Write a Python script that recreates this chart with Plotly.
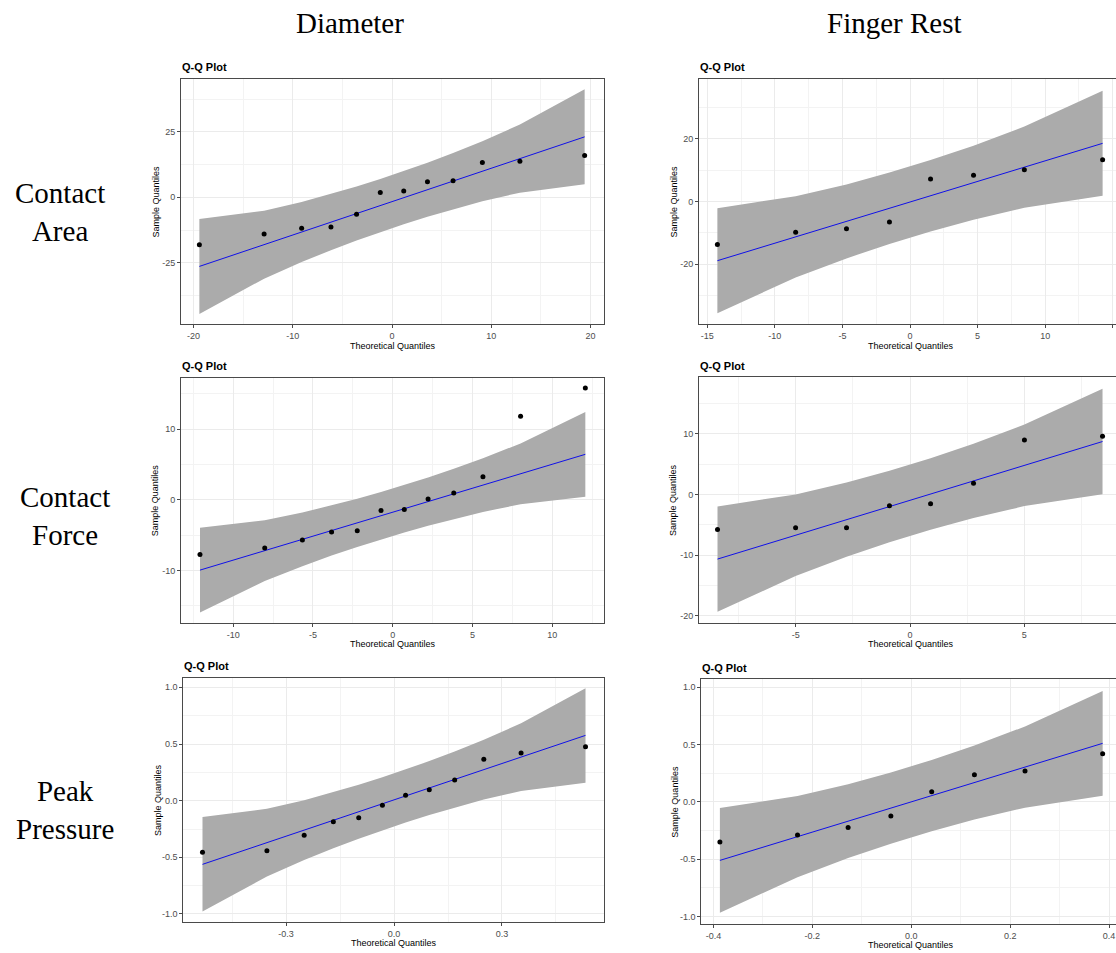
import plotly.graph_objects as go

W, H = 1116, 953

col_titles = ["Diameter", "Finger Rest"]
row_titles = ["Contact<br>Area", "Contact<br>Force", "Peak<br>Pressure"]
panel_title = "Q-Q Plot"
x_title = "Theoretical Quantiles"
y_title = "Sample Quantiles"

# ---- Contact Area / Diameter ----
ca_dia_theo = [-19.40, -12.88, -9.10, -6.15, -3.57, -1.18, 1.18, 3.57, 6.15, 9.10, 12.88, 19.40]
ca_dia_sample = [-18.1, -14.0, -11.8, -11.3, -6.5, 1.8, 2.4, 5.9, 6.3, 13.3, 13.8, 16.0]
ca_dia_fit = [-26.40, -18.09, -13.26, -9.50, -6.21, -3.16, -0.14, 2.91, 6.20, 9.96, 14.79, 23.10]
ca_dia_upper = [-8.25, -5.09, -1.80, 1.22, 4.12, 6.99, 10.01, 13.24, 16.92, 21.42, 27.79, 41.25]
ca_dia_lower = [-44.55, -31.09, -24.72, -20.22, -16.54, -13.31, -10.29, -7.42, -4.52, -1.50, 1.79, 4.95]

# ---- Contact Area / Finger Rest ----
ca_fr_theo = [-14.25, -8.46, -4.70, -1.52, 1.52, 4.70, 8.46, 14.25]
ca_fr_sample = [-13.7, -9.8, -8.7, -6.6, 7.1, 8.3, 10.1, 13.3]
ca_fr_fit = [-18.90, -11.30, -6.37, -2.19, 1.79, 5.97, 10.90, 18.50]
ca_fr_upper = [-2.17, 1.65, 5.42, 9.18, 13.16, 17.76, 23.85, 35.23]
ca_fr_lower = [-35.63, -24.25, -18.16, -13.56, -9.58, -5.82, -2.05, 1.77]

# ---- Contact Force / Diameter ----
cf_dia_theo = [-12.08, -8.02, -5.66, -3.83, -2.22, -0.73, 0.73, 2.22, 3.83, 5.66, 8.02, 12.08]
cf_dia_sample = [-7.74, -6.84, -5.71, -4.58, -4.39, -1.51, -1.37, 0.09, 0.94, 3.25, 11.79, 15.80]
cf_dia_fit = [-9.96, -7.20, -5.61, -4.37, -3.27, -2.27, -1.28, -0.27, 0.83, 2.07, 3.66, 6.42]
cf_dia_upper = [-3.96, -2.90, -1.82, -0.83, 0.14, 1.10, 2.09, 3.14, 4.37, 5.86, 7.96, 12.42]
cf_dia_lower = [-15.96, -11.50, -9.40, -7.91, -6.68, -5.63, -4.64, -3.68, -2.72, -1.73, -0.64, 0.42]

# ---- Contact Force / Finger Rest ----
cf_fr_theo = [-8.43, -5.01, -2.78, -0.90, 0.90, 2.78, 5.01, 8.43]
cf_fr_sample = [-5.77, -5.49, -5.49, -1.87, -1.54, 1.87, 9.01, 9.62]
cf_fr_fit = [-10.66, -6.73, -4.16, -2.00, 0.08, 2.24, 4.81, 8.74]
cf_fr_upper = [-1.97, 0.00, 1.97, 3.90, 5.98, 8.37, 11.54, 17.43]
cf_fr_lower = [-19.35, -13.46, -10.29, -7.90, -5.82, -3.89, -1.92, 0.05]

# ---- Peak Pressure / Diameter ----
pp_dia_theo = [-0.532, -0.353, -0.2495, -0.1685, -0.098, -0.0322, 0.0322, 0.098, 0.1685, 0.2495, 0.353, 0.532]
pp_dia_sample = [-0.456, -0.441, -0.306, -0.185, -0.150, -0.041, 0.047, 0.097, 0.182, 0.365, 0.421, 0.476]
pp_dia_fit = [-0.562, -0.371, -0.260, -0.173, -0.098, -0.027, 0.041, 0.112, 0.187, 0.274, 0.385, 0.576]
pp_dia_upper = [-0.145, -0.072, 0.003, 0.073, 0.140, 0.206, 0.275, 0.349, 0.433, 0.537, 0.683, 0.993]
pp_dia_lower = [-0.979, -0.669, -0.523, -0.419, -0.335, -0.261, -0.192, -0.126, -0.059, 0.011, 0.086, 0.159]

# ---- Peak Pressure / Finger Rest ----
pp_fr_theo = [-0.387, -0.230, -0.1277, -0.0413, 0.0413, 0.1277, 0.230, 0.387]
pp_fr_sample = [-0.352, -0.291, -0.224, -0.125, 0.087, 0.235, 0.267, 0.419]
pp_fr_fit = [-0.512, -0.305, -0.170, -0.056, 0.053, 0.167, 0.302, 0.509]
pp_fr_upper = [-0.055, 0.049, 0.152, 0.255, 0.364, 0.489, 0.656, 0.966]
pp_fr_lower = [-0.969, -0.659, -0.492, -0.367, -0.258, -0.155, -0.052, 0.052]

# tick labels
ca_dia_xticks = [-20, -10, 0, 10, 20]
ca_dia_yticks = [-25, 0, 25]
ca_fr_xticks = [-15, -10, -5, 0, 5, 10, 15]
ca_fr_yticks = [-20, 0, 20]
cf_dia_xticks = [-10, -5, 0, 5, 10]
cf_dia_yticks = [-10, 0, 10]
cf_fr_xticks = [-5, 0, 5]
cf_fr_yticks = [-20, -10, 0, 10]
pp_dia_xticks = [-0.3, 0.0, 0.3]
pp_dia_xlabels = ["-0.3", "0.0", "0.3"]
pp_yticks = [-1.0, -0.5, 0.0, 0.5, 1.0]
pp_ylabels = ["-1.0", "-0.5", "0.0", "0.5", "1.0"]
pp_fr_xticks = [-0.4, -0.2, 0.0, 0.2, 0.4]
pp_fr_xlabels = ["-0.4", "-0.2", "0.0", "0.2", "0.4"]


def lab(vals):
    return [str(v) for v in vals]


# layout geometry in pixels: (left, right, top, bottom), axis ranges
panels = [
    dict(theo=ca_dia_theo, sample=ca_dia_sample, fit=ca_dia_fit, up=ca_dia_upper, lo=ca_dia_lower,
         box=(181, 604, 79, 324), xr=[-21.25, 21.35], yr=[-48.4, 45.2],
         xt=ca_dia_xticks, xl=lab(ca_dia_xticks), yt=ca_dia_yticks, yl=lab(ca_dia_yticks),
         right=False, xtitle_px=392.5),
    dict(theo=ca_fr_theo, sample=ca_fr_sample, fit=ca_fr_fit, up=ca_fr_upper, lo=ca_fr_lower,
         box=(699, 1116, 79, 324), xr=[-15.61, 15.24], yr=[-39.07, 39.0],
         xt=ca_fr_xticks, xl=lab(ca_fr_xticks), yt=ca_fr_yticks, yl=lab(ca_fr_yticks),
         right=True, xtitle_px=910.5),
    dict(theo=cf_dia_theo, sample=cf_dia_sample, fit=cf_dia_fit, up=cf_dia_upper, lo=cf_dia_lower,
         box=(181, 604, 377.7, 622.7), xr=[-13.27, 13.25], yr=[-17.4, 17.26],
         xt=cf_dia_xticks, xl=lab(cf_dia_xticks), yt=cf_dia_yticks, yl=lab(cf_dia_yticks),
         right=False, xtitle_px=392.5),
    dict(theo=cf_fr_theo, sample=cf_fr_sample, fit=cf_fr_fit, up=cf_fr_upper, lo=cf_fr_lower,
         box=(699, 1116, 377.3, 622.7), xr=[-9.24, 9.02], yr=[-21.16, 19.34],
         xt=cf_fr_xticks, xl=lab(cf_fr_xticks), yt=cf_fr_yticks, yl=lab(cf_fr_yticks),
         right=True, xtitle_px=910.5),
    dict(theo=pp_dia_theo, sample=pp_dia_sample, fit=pp_dia_fit, up=pp_dia_upper, lo=pp_dia_lower,
         box=(183.3, 604.3, 677.7, 921.7), xr=[-0.5853, 0.5842], yr=[-1.068, 1.085],
         xt=pp_dia_xticks, xl=pp_dia_xlabels, yt=pp_yticks, yl=pp_ylabels,
         right=False, xtitle_px=393.8),
    dict(theo=pp_fr_theo, sample=pp_fr_sample, fit=pp_fr_fit, up=pp_fr_upper, lo=pp_fr_lower,
         box=(701.3, 1116, 679, 923.7), xr=[-0.4246, 0.414], yr=[-1.064, 1.07],
         xt=pp_fr_xticks, xl=pp_fr_xlabels, yt=pp_yticks, yl=pp_ylabels,
         right=True, xtitle_px=911.3),
]


def px_x(p):
    return p / W


def px_y(p):
    return 1 - p / H


def minor_vals(ticks, lo, hi):
    step = ticks[1] - ticks[0]
    vals = []
    v = ticks[0] - step / 2
    while v > lo:
        v -= step
    while v < hi:
        if v > lo:
            vals.append(v)
        v += step
    return vals


fig = go.Figure()
layout = dict(
    width=W, height=H, margin=dict(l=0, r=0, t=0, b=0),
    paper_bgcolor="white", plot_bgcolor="white", showlegend=False,
)
annotations = []

BAND = "#ABABAB"
GRID = "#EBEBEB"
MINOR = "#F3F3F3"
BORDER = "#4A4A4A"
TICKC = "#4D4D4D"
SANS = "Liberation Sans, Arial, sans-serif"
SERIF = "Liberation Serif, Times New Roman, serif"

for i, p in enumerate(panels):
    n = i + 1
    xa = "x" if n == 1 else f"x{n}"
    ya = "y" if n == 1 else f"y{n}"
    l, r, t, b = p["box"]
    fig.add_trace(go.Scatter(
        x=p["theo"] + p["theo"][::-1], y=p["up"] + p["lo"][::-1],
        fill="toself", fillcolor=BAND, mode="lines", line=dict(width=0, color=BAND),
        hoverinfo="skip", xaxis=xa, yaxis=ya))
    fig.add_trace(go.Scatter(
        x=p["theo"], y=p["fit"], mode="lines", line=dict(color="#1010E8", width=1),
        xaxis=xa, yaxis=ya))
    fig.add_trace(go.Scatter(
        x=p["theo"], y=p["sample"], mode="markers",
        marker=dict(color="black", size=5), xaxis=xa, yaxis=ya))

    xkey = "xaxis" if n == 1 else f"xaxis{n}"
    ykey = "yaxis" if n == 1 else f"yaxis{n}"
    layout[xkey] = dict(
        domain=[px_x(l), px_x(r)], anchor=ya, range=p["xr"],
        tickmode="array", tickvals=p["xt"], ticktext=p["xl"],
        showgrid=True, gridcolor=GRID, gridwidth=1, zeroline=False,
        minor=dict(tickmode="array", tickvals=minor_vals(p["xt"], *p["xr"]),
                   showgrid=True, gridcolor=MINOR, gridwidth=1, ticks=""),
        showline=True, mirror=True, linecolor=BORDER, linewidth=1,
        ticks="outside", ticklen=3, tickcolor=BORDER, tickwidth=1,
        tickfont=dict(family=SANS, size=9, color=TICKC),
    )
    layout[ykey] = dict(
        domain=[px_y(b), px_y(t)], anchor=xa, range=p["yr"],
        tickmode="array", tickvals=p["yt"], ticktext=p["yl"],
        showgrid=True, gridcolor=GRID, gridwidth=1, zeroline=False,
        minor=dict(tickmode="array", tickvals=minor_vals(p["yt"], *p["yr"]),
                   showgrid=True, gridcolor=MINOR, gridwidth=1, ticks=""),
        showline=True, mirror=(not p["right"]), linecolor=BORDER, linewidth=1,
        ticks="outside", ticklen=3, tickcolor=BORDER, tickwidth=1,
        tickfont=dict(family=SANS, size=9, color=TICKC),
    )
    # panel title
    annotations.append(dict(
        text=f"<b>{panel_title}</b>", xref="paper", yref="paper",
        x=px_x(l - 1), y=px_y(t - 11.5), xanchor="left", yanchor="middle",
        showarrow=False, font=dict(family=SANS, size=11, color="black")))
    # x axis title
    annotations.append(dict(
        text=x_title, xref="paper", yref="paper",
        x=px_x(p["xtitle_px"]), y=px_y(b + 21.7), xanchor="center", yanchor="middle",
        showarrow=False, font=dict(family=SANS, size=9, color="black")))
    # y axis title
    annotations.append(dict(
        text=y_title, xref="paper", yref="paper", textangle=-90,
        x=px_x(l - 26), y=px_y((t + b) / 2), xanchor="center", yanchor="middle",
        showarrow=False, font=dict(family=SANS, size=9, color="black")))

# column headers
for txt, cx in zip(col_titles, [350, 894]):
    annotations.append(dict(
        text=txt, xref="paper", yref="paper", x=px_x(cx), y=px_y(23),
        xanchor="center", yanchor="middle", showarrow=False,
        font=dict(family=SERIF, size=29, color="black")))

# row headers
for txt, cx, cy in zip(row_titles, [60, 65, 65], [212, 516, 810]):
    annotations.append(dict(
        text=txt, xref="paper", yref="paper", x=px_x(cx), y=px_y(cy),
        xanchor="center", yanchor="middle", showarrow=False,
        font=dict(family=SERIF, size=29, color="black")))

layout["annotations"] = annotations
fig.update_layout(**layout)
fig.write_html(
    "out.html",
    config={"displayModeBar": False},
    post_script="document.body.style.margin='0';document.body.style.overflow='hidden';",
)
